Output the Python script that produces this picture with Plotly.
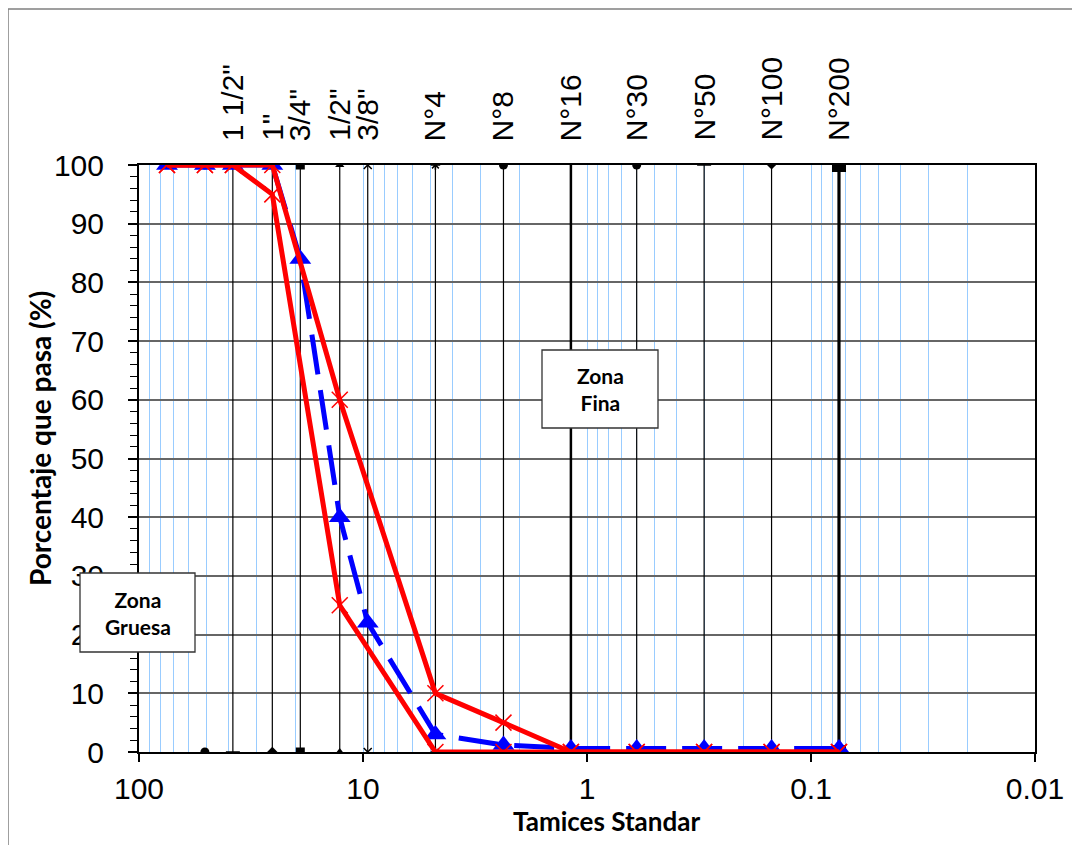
import numpy as np
import plotly.graph_objects as go

# ---------------- data ----------------
# sieve openings (mm) used by the gradation curves
curve_sizes = [75, 50.8, 38.1, 25.4, 19.05, 12.7, 9.525, 4.75, 2.36, 1.18, 0.6, 0.3, 0.15, 0.075]
muestra = [100, 100, 100, 100, 84, 40, 22, 3, 1.2, 0.6, 0.6, 0.6, 0.6, 0.6]

limit_sizes = [75, 50.8, 38.1, 25.4, 12.7, 4.75, 2.36, 1.18, 0.6, 0.3, 0.15, 0.075]
limite_superior = [100, 100, 100, 100, 60, 10, 5, 0, 0, 0, 0, 0]
limite_inferior = [100, 100, 100, 95, 25, 0, 0, 0, 0, 0, 0, 0]

# reference sieve lines
sieve_sizes = [50.8, 38.1, 25.4, 19.05, 12.7, 9.525, 4.75, 2.36, 1.18, 0.6, 0.3, 0.15, 0.075]
sieve_names = ['2"', '1 1/2"', '1"', '3/4"', '1/2"', '3/8"', 'N°4', 'N°8', 'N°16', 'N°30', 'N°50', 'N°100', 'N°200']
sieve_shown = [False, True, True, True, True, True, True, True, True, True, True, True, True]
sieve_symbols = ['circle', 'line-ew', 'diamond', 'square', 'triangle-up', 'x-thin', 'asterisk',
                 'circle', 'line-ew', 'circle', 'line-ew', 'diamond', 'square']
sieve_marker_sizes = [9, 10, 8, 9, 8, 8, 8, 9, 1, 9, 10, 7, 14]
sieve_line_widths = [0, 1.2, 1.2, 1.2, 1.2, 1.2, 1.2, 1.2, 2.5, 1.2, 1.2, 1.2, 3.2]

x_ticks = [100, 10, 1, 0.1, 0.01]
x_ticktext = ["100", "10", "1", "0.1", "0.01"]

# ---------------- figure ----------------
W, H = 1080, 845
OFF = 8  # page offset of the plot inside the browser window
L, R, T, B = 139 - OFF, 45 + OFF, 165 - OFF, 93 + OFF
pw, ph = W - L - R, H - T - B

def px_x(p):  # screen pixel -> paper
    return (p - (L + OFF)) / pw

def px_y(p):
    return ((T + OFF + ph) - p) / ph

fig = go.Figure()

for s, name, shown, sym, msz, lw in zip(sieve_sizes, sieve_names, sieve_shown,
                                         sieve_symbols, sieve_marker_sizes, sieve_line_widths):
    fig.add_trace(go.Scatter(
        x=[s, s], y=[0, 100],
        mode='lines+markers' if lw > 0 else 'markers',
        line=dict(color='black', width=max(lw, 0.1)),
        marker=dict(symbol=sym, size=msz, color='black',
                    line=dict(color='black', width=1.5 if sym in ('x-thin', 'asterisk', 'line-ew') else 0)),
        hoverinfo='skip', showlegend=False))

fig.add_trace(go.Scatter(
    x=curve_sizes, y=muestra, mode='lines+markers',
    line=dict(color='#0000FF', width=5, dash='40px,16px'),
    marker=dict(symbol='triangle-up', size=19, color='#0000FF'),
    showlegend=False))

for vals in (limite_inferior, limite_superior):
    fig.add_trace(go.Scatter(
        x=limit_sizes, y=vals, mode='lines+markers',
        line=dict(color='#FF0000', width=5),
        marker=dict(symbol='x-thin', size=16, color='#FF0000',
                    line=dict(color='#FF0000', width=1.5)),
        showlegend=False))

minor_vals = [m * 10.0 ** e for e in range(-2, 2) for m in range(2, 10)]

fig.update_layout(
    width=W, height=H,
    margin=dict(l=L, r=R, t=T, b=B, autoexpand=False),
    paper_bgcolor='white', plot_bgcolor='white',
    font=dict(family='Liberation Sans, Arial', color='black', size=30),
    showlegend=False,
    xaxis=dict(
        type='log', range=[2, -2], autorange=False,
        tickmode='array', tickvals=x_ticks, ticktext=x_ticktext,
        ticks='outside', ticklen=8, tickwidth=1.5, tickcolor='black',
        showgrid=True, gridcolor='#99CCFF', gridwidth=1,
        minor=dict(tickmode='array', tickvals=minor_vals, showgrid=True,
                   gridcolor='#99CCFF', gridwidth=1, ticks=''),
        showline=True, linecolor='black', linewidth=2, mirror=True,
        zeroline=False, ticklabelstandoff=1,
        tickfont=dict(size=30, family='Liberation Sans, Arial'),
    ),
    yaxis=dict(
        range=[0, 100], autorange=False, dtick=10, tick0=0,
        ticks='outside', ticklen=9, tickwidth=1.5, tickcolor='black',
        minor=dict(dtick=2, ticks='outside', ticklen=7, tickwidth=1, tickcolor='black', showgrid=False),
        showgrid=True, gridcolor='#666666', gridwidth=1.5,
        showline=True, linecolor='black', linewidth=2, mirror=True,
        zeroline=False, ticklabelstandoff=18,
        tickfont=dict(size=30, family='Liberation Sans, Arial'),
    ),
)

shapes = [
    # outer chart border
    dict(type='rect', xref='paper', yref='paper', layer='above',
         x0=px_x(8), x1=px_x(1100), y0=px_y(870), y1=px_y(9),
         line=dict(color='#808080', width=1.5), fillcolor='rgba(0,0,0,0)'),
    # zone boxes
    dict(type='rect', xref='paper', yref='paper', layer='above',
         x0=px_x(542), x1=px_x(658), y0=px_y(428), y1=px_y(350),
         line=dict(color='#333333', width=1.3), fillcolor='white'),
    dict(type='rect', xref='paper', yref='paper', layer='above',
         x0=px_x(80), x1=px_x(195), y0=px_y(652), y1=px_y(573),
         line=dict(color='#333333', width=1.3), fillcolor='white'),
]
fig.update_layout(shapes=shapes)

zone_font = dict(family='Lato, Open Sans', size=21, color='black')
title_font = dict(family='Lato, Open Sans', size=26, color='black')
annotations = [
    dict(text='<b>Zona<br>Fina</b>', xref='paper', yref='paper', x=px_x(600), y=px_y(389),
         xanchor='center', yanchor='middle', showarrow=False, font=zone_font, align='center'),
    dict(text='<b>Zona<br>Gruesa</b>', xref='paper', yref='paper', x=px_x(137.5), y=px_y(613),
         xanchor='center', yanchor='middle', showarrow=False, font=zone_font, align='center'),
    dict(text='<b>Tamices Standar</b>', xref='paper', yref='paper', x=px_x(606), y=px_y(821),
         xanchor='center', yanchor='middle', showarrow=False, font=title_font),
    dict(text='<b>Porcentaje que pasa (%)</b>', xref='paper', yref='paper', x=px_x(40), y=px_y(439),
         xanchor='center', yanchor='middle', showarrow=False,
         font=dict(family='Lato, Open Sans', size=28, color='black'), textangle=-90),
]
for s, name, shown in zip(sieve_sizes, sieve_names, sieve_shown):
    if not shown:
        continue
    annotations.append(dict(
        text=name, xref='x', yref='paper', x=np.log10(s), y=px_y(143),
        xanchor='center', yanchor='bottom', textangle=-90, showarrow=False,
        font=dict(family='Liberation Sans, Arial', size=30, color='black')))
fig.update_layout(annotations=annotations)

fig.write_html("out.html")
